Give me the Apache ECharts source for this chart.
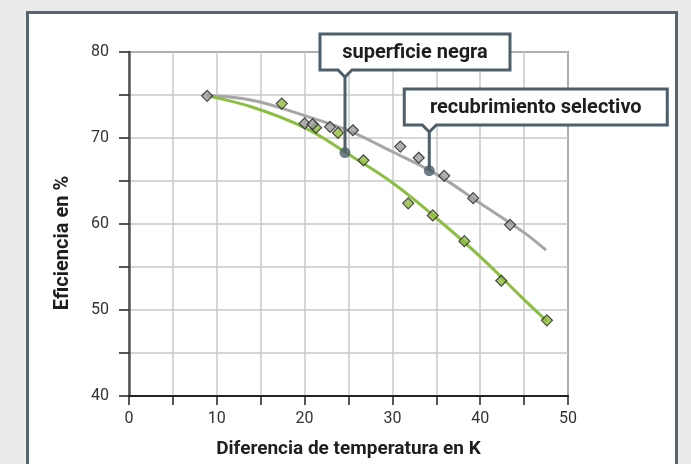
<!DOCTYPE html>
<html>
<head>
<meta charset="utf-8">
<script src="https://cdn.jsdelivr.net/npm/echarts@6/dist/echarts.min.js"></script>
<style>
  html, body { margin: 0; padding: 0; background: #ebebeb; }
  #panel {
    position: absolute; left: 26px; top: 11px; width: 646px; height: 500px;
    border: 3px solid #56656f; background: #fff;
  }
  #chart { position: absolute; left: 0; top: 0; width: 691px; height: 464px; }
</style>
</head>
<body>
<div id="panel"></div>
<div id="chart"></div>
<script>
// recubrimiento selectivo (gris)
var selX = [8.9, 20.0, 20.9, 22.9, 25.5, 30.9, 33.0, 35.9, 39.2, 43.4];
var selY = [74.9, 71.7, 71.6, 71.3, 70.9, 69.0, 67.7, 65.6, 63.0, 59.9];
var selCurveX = [8.9, 14, 20, 25, 30, 35, 40, 45, 47.5];
var selCurveY = [74.9, 74.4, 72.6, 70.85, 68.4, 65.8, 62.4, 59.0, 56.95];

// superficie negra (verde)
var negX = [17.4, 21.3, 23.8, 26.7, 31.8, 34.6, 38.2, 42.4, 47.6];
var negY = [74.0, 71.2, 70.6, 67.4, 62.4, 61.0, 58.0, 53.4, 48.8];
var negCurveX = [8.9, 14, 20, 25, 30, 35, 40, 45, 47.6];
var negCurveY = [74.9, 73.6, 71.2, 68.1, 64.8, 60.7, 56.2, 51.2, 48.7];

// etiquetas
var calloutText = ["superficie negra", "recubrimiento selectivo"];
var calloutX = [24.6, 34.2];
var calloutY = [68.3, 66.2];

var xTickLabels = [0, 10, 20, 30, 40, 50];
var yTickLabels = [40, 50, 60, 70, 80];

function pairs(xs, ys) {
  return xs.map(function (x, i) { return [x, ys[i]]; });
}

var ink = "#4d5f6b";
var font = "Roboto";

var chart = echarts.init(document.getElementById("chart"));
var option = {
  backgroundColor: "transparent",
  animation: false,
  grid: {
    left: 129, right: 123, top: 52, bottom: 67,
    show: true, borderColor: "#333", borderWidth: 1.5
  },
  xAxis: {
    type: "value", min: 0, max: 50, interval: 5,
    name: "Diferencia de temperatura en K",
    nameLocation: "middle", nameGap: 44,
    nameTextStyle: { fontFamily: font, fontWeight: "bold", fontSize: 19, color: "#1e1e1e" },
    axisLine: { lineStyle: { color: "#222", width: 2 } },
    axisTick: { show: true, length: 9, lineStyle: { color: "#222", width: 1.5 } },
    axisLabel: {
      margin: 15, fontFamily: font, fontSize: 16, color: "#333",
      formatter: function (v) { return xTickLabels.indexOf(v) >= 0 ? String(v) : ""; }
    },
    splitLine: { show: true, lineStyle: { color: "#c8c8c8", width: 1.5 } }
  },
  yAxis: {
    type: "value", min: 40, max: 80, interval: 5,
    name: "Eficiencia en %",
    nameLocation: "middle", nameGap: 56, nameRotate: 90,
    nameTextStyle: { fontFamily: font, fontWeight: "bold", fontSize: 20, color: "#1e1e1e", padding: [0, 38, 0, 0] },
    axisLine: { show: true, lineStyle: { color: "#555", width: 2.5 } },
    axisTick: { show: true, length: 10, lineStyle: { color: "#222", width: 1.5 } },
    axisLabel: {
      margin: 20, fontFamily: font, fontSize: 16, color: "#333",
      formatter: function (v) { return yTickLabels.indexOf(v) >= 0 ? String(v) : ""; }
    },
    splitLine: { show: true, lineStyle: { color: "#c8c8c8", width: 1.5 } }
  },
  series: [
    {
      type: "line", data: pairs(selCurveX, selCurveY), smooth: 0.4,
      symbol: "none", lineStyle: { color: "#a6a6a6", width: 3 }, z: 2
    },
    {
      type: "line", data: pairs(negCurveX, negCurveY), smooth: 0.4,
      symbol: "none", lineStyle: { color: "#8cbd45", width: 3 }, z: 2
    },
    {
      type: "scatter", data: pairs(negX, negY), symbol: "diamond", symbolSize: 11,
      itemStyle: { color: "#8fbc3e", borderColor: "#222", borderWidth: 1.2 }, z: 3
    },
    {
      type: "scatter", data: pairs(selX, selY), symbol: "diamond", symbolSize: 11,
      itemStyle: { color: "#9c9c9c", borderColor: "#222", borderWidth: 1.2 }, z: 3
    },
    {
      type: "scatter", data: pairs(calloutX, calloutY), symbol: "circle", symbolSize: 11,
      itemStyle: { color: ink }, z: 6
    }
  ]
};
chart.setOption(option);

// cajas de las etiquetas
var boxTop = [34, 89];
var boxW = [190, 263];
var boxH = 36;
var els = [];
calloutText.forEach(function (t, i) {
  var p = chart.convertToPixel({ gridIndex: 0 }, [calloutX[i], calloutY[i]]);
  var left = p[0] - 25, top = boxTop[i], w = boxW[i];
  var bottom = top + boxH;
  var pts = [[left, top], [left + w, top], [left + w, bottom], [p[0] + 7, bottom],
             [p[0], bottom + 7], [p[0] - 7, bottom], [left, bottom]];
  els.push({ type: "line", z: 100, shape: { x1: p[0], y1: bottom + 6, x2: p[0], y2: p[1] },
             style: { stroke: ink, lineWidth: 3 } });
  els.push({ type: "polygon", z: 101, shape: { points: pts },
             style: { fill: "#fff", stroke: ink, lineWidth: 3 } });
  els.push({ type: "text", z: 102, x: left + w / 2, y: top + boxH / 2 + 1,
             style: { text: t, font: "bold 20px " + font, fill: "#1e1e1e", align: "center", verticalAlign: "middle" } });
});
chart.setOption({ graphic: els });
</script>
</body>
</html>
